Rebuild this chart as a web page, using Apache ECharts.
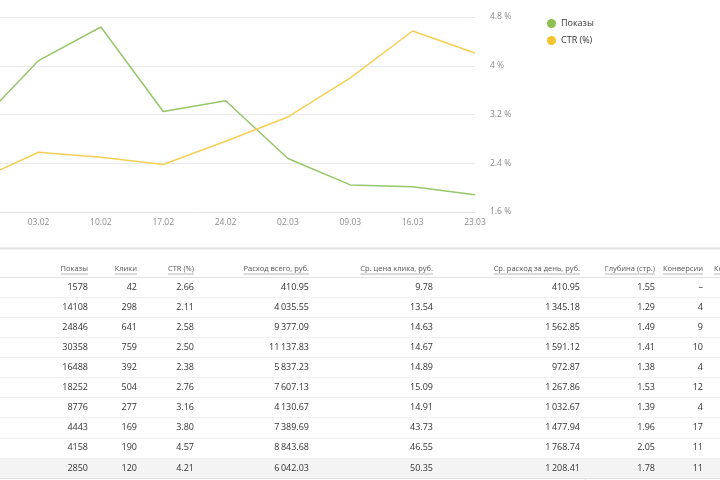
<!DOCTYPE html>
<html>
<head>
<meta charset="utf-8">
<script src="https://cdn.jsdelivr.net/npm/echarts@6/dist/echarts.min.js"></script>
<style>
html,body{margin:0;padding:0;background:#fff;overflow:hidden;width:720px;height:480px;position:relative;}
#chart{position:absolute;left:-100px;top:0;width:820px;height:480px;}
</style>
</head>
<body>
<div id="chart"></div>
<script>
// ---- data ----
const weeks = ['20.01','27.01','03.02','10.02','17.02','24.02','02.03','09.03','16.03','23.03'];
const shows = [1578,14108,24846,30358,16488,18252,8776,4443,4158,2850];
const clicks = [42,298,641,759,392,504,277,169,190,120];
const ctr = [2.66,2.11,2.58,2.50,2.38,2.76,3.16,3.80,4.57,4.21];
const spendTotal = [410.95,4035.55,9377.09,11137.83,5837.23,7607.13,4130.67,7389.69,8843.68,6042.03];
const cpc = [9.78,13.54,14.63,14.67,14.89,15.09,14.91,43.73,46.55,50.35];
const spendDaily = [410.95,1345.18,1562.85,1591.12,972.87,1267.86,1032.67,1477.94,1768.74,1208.41];
const depth = [1.55,1.29,1.49,1.41,1.38,1.53,1.39,1.96,2.05,1.78];
const conversions = [null,4,9,10,4,12,4,17,11,11];
const seriesNames = ['Показы','CTR (%)'];
const tableHeaders = ['Показы','Клики','CTR (%)','Расход всего, руб.','Ср. цена клика, руб.','Ср. расход за день, руб.','Глубина (стр.)','Конверсии','Конверсия (%)'];

// ---- layout (not data) ----
const SHIFT = 100; // canvas is shifted left by this many px (first weeks are off-screen)
const colAnchor = [88,137,194,309,433,580,655,703,714];
const colAlign  = ['right','right','right','right','right','right','right','right','left'];

// ---- formatting ----
const fmtInt = v => String(v);
const fmt2 = v => v.toFixed(2);
const fmtMoney = v => { const p = v.toFixed(2).split('.'); return p[0].replace(/\B(?=(\d{3})+(?!\d))/g, '\u2009') + '.' + p[1]; };
const fmtConv = v => v == null ? '\u2013' : String(v);

const columns = [
  [shows, fmtInt], [clicks, fmtInt], [ctr, fmt2], [spendTotal, fmtMoney],
  [cpc, fmt2], [spendDaily, fmtMoney], [depth, fmt2], [conversions, fmtConv]
];

const cells = [];
tableHeaders.forEach((h, c) => cells.push({x: colAnchor[c], row: 0, text: h, align: colAlign[c], header: true}));
weeks.forEach((w, r) => {
  columns.forEach((col, c) => cells.push({x: colAnchor[c], row: r + 1, text: col[1](col[0][r]), align: colAlign[c], header: false}));
});

const FONT = '"Open Sans", "Noto Sans", sans-serif';
const measureCtx = document.createElement('canvas').getContext('2d');

function renderCell(params, api) {
  const cell = cells[params.dataIndex];
  const p = api.coord([api.value(0), api.value(1)]);
  if (!cell.header) {
    return {
      type: 'text', x: p[0], y: p[1],
      style: {text: cell.text, fill: '#333', font: '9px ' + FONT, align: cell.align, verticalAlign: 'middle'}
    };
  }
  const font = '7.5px ' + FONT;
  measureCtx.font = font;
  const w = measureCtx.measureText(cell.text).width;
  const y = p[1] + 2;
  const x0 = cell.align === 'right' ? p[0] - w : p[0];
  return {
    type: 'group',
    children: [
      {type: 'text', x: p[0], y: y, style: {text: cell.text, fill: '#555', font: font, align: cell.align, verticalAlign: 'middle'}},
      {type: 'line', shape: {x1: x0, y1: y + 5, x2: x0 + w, y2: y + 5}, style: {stroke: '#888', lineWidth: 0.6}}
    ]
  };
}

const rowCats = [''].concat(weeks);
const splitColors = rowCats.map((_, i) => i === 0 ? 'rgba(0,0,0,0)' : (i === 1 ? '#e3e3e3' : '#f0f0f0'));
splitColors.push('#e2e2e2');
const areaColors = rowCats.map((_, i) => i === rowCats.length - 1 ? '#f4f4f4' : '#ffffff');

const chart = echarts.init(document.getElementById('chart'), null, {renderer: 'canvas'});
chart.setOption({
  animation: false,
  backgroundColor: '#fff',
  textStyle: {fontFamily: FONT},
  legend: {
    data: seriesNames, orient: 'vertical', left: 542 + SHIFT, top: 14,
    icon: 'circle', itemWidth: 9, itemHeight: 9, itemGap: 8,
    textStyle: {color: '#333', fontSize: 9, fontFamily: FONT}
  },
  grid: [
    {left: SHIFT - 86.5, right: 245, top: 17, height: 195},
    {left: SHIFT, right: 0, top: 257, height: 221}
  ],
  xAxis: [
    {
      type: 'category', gridIndex: 0, data: weeks, boundaryGap: false,
      axisLine: {lineStyle: {color: '#dfe2ea'}}, axisTick: {show: false},
      axisLabel: {color: '#8c8c8c', fontSize: 8.5, margin: 6, fontFamily: FONT}
    },
    {type: 'value', gridIndex: 1, min: 0, max: 720, show: false}
  ],
  yAxis: [
    {type: 'value', gridIndex: 0, min: 0, max: 32000, interval: 8000, show: false},
    {
      type: 'value', gridIndex: 0, position: 'right', min: 1.6, max: 4.8, interval: 0.8,
      axisLine: {show: false}, axisTick: {show: false},
      axisLabel: {color: '#8c8c8c', fontSize: 8.5, margin: 15, fontFamily: FONT,
        formatter: v => (+v.toFixed(1)) + ' %'},
      splitLine: {lineStyle: {color: '#e9ebf0', width: 1}}
    },
    {
      type: 'category', gridIndex: 1, data: rowCats, inverse: true,
      axisLine: {show: false}, axisTick: {show: false}, axisLabel: {show: false},
      splitLine: {show: true, lineStyle: {color: splitColors, width: 1}},
      splitArea: {show: true, areaStyle: {color: areaColors}}
    }
  ],
  series: [
    {
      name: seriesNames[0], type: 'line', xAxisIndex: 0, yAxisIndex: 0, data: shows,
      symbol: 'none', lineStyle: {color: '#97c66b', width: 1.5}, itemStyle: {color: '#8cc152'}
    },
    {
      name: seriesNames[1], type: 'line', xAxisIndex: 0, yAxisIndex: 1, data: ctr,
      symbol: 'none', lineStyle: {color: '#f5cf55', width: 1.5}, itemStyle: {color: '#f5c52e'}
    },
    {
      name: 'table', type: 'custom', xAxisIndex: 1, yAxisIndex: 2,
      data: cells.map(c => [c.x, c.row]), renderItem: renderCell, silent: true, clip: false
    }
  ],
  graphic: [
    {type: 'rect', left: SHIFT, top: 247.5, shape: {width: 720, height: 2}, style: {fill: '#e2e2e2'}, silent: true},
    {type: 'line', shape: {x1: SHIFT + 585.5, y1: 277, x2: SHIFT + 585.5, y2: 480}, style: {stroke: '#e4e4e4', lineWidth: 1}, silent: true}
  ]
});
</script>
</body>
</html>
